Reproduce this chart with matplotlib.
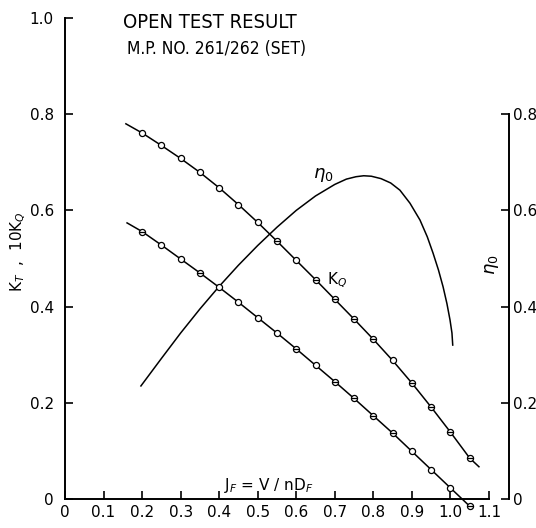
import numpy as np
import matplotlib.pyplot as plt

plt.rcParams['font.family'] = ['DejaVu Sans']
plt.rcParams['mathtext.fontset'] = 'dejavusans'

# advance coefficient of the test points
j_pts = [0.20, 0.25, 0.30, 0.35, 0.40, 0.45, 0.50, 0.55, 0.60,
         0.65, 0.70, 0.75, 0.80, 0.85, 0.90, 0.95, 1.00, 1.05]
# 10*KQ (upper curve) and KT (lower curve)
kq10_pts = [0.761, 0.735, 0.708, 0.679, 0.647, 0.612, 0.575, 0.536, 0.496,
            0.456, 0.415, 0.374, 0.332, 0.288, 0.241, 0.191, 0.139, 0.085]
kt_pts = [0.556, 0.528, 0.499, 0.470, 0.440, 0.409, 0.377, 0.345, 0.312,
          0.278, 0.244, 0.209, 0.173, 0.137, 0.099, 0.061, 0.023, -0.015]
# repeated runs (drawn as circle with a bar)
kq10_double = [0.55, 0.65, 0.70, 0.75, 0.80, 0.90, 0.95, 1.00, 1.05]
kt_double = [0.20, 0.35, 0.60, 0.70, 0.75, 0.80, 0.85, 1.05]

# fairing ends of the two lines
kq10_ends_j = [0.158, 1.074]
kq10_ends = [0.780, 0.067]
kt_ends_j = [0.161, 1.056]
kt_ends = [0.574, -0.019]

# open water efficiency
eta_j = [0.197, 0.25, 0.30, 0.35, 0.40, 0.45, 0.50, 0.55, 0.60, 0.65, 0.70,
         0.73, 0.755, 0.775, 0.795, 0.82, 0.845, 0.869, 0.895, 0.921, 0.94,
         0.955, 0.969, 0.981, 0.991, 0.999, 1.004, 1.006]
eta = [0.235, 0.292, 0.345, 0.395, 0.442, 0.486, 0.527, 0.565, 0.600, 0.630,
       0.654, 0.665, 0.670, 0.672, 0.671, 0.666, 0.657, 0.642, 0.615, 0.580,
       0.545, 0.511, 0.476, 0.441, 0.406, 0.372, 0.345, 0.320]

fig = plt.figure(figsize=(5.36, 5.28), dpi=100)
ax = fig.add_axes([65/536, 14.6/528, 444/536, 495.4/528])
ax.set_xlim(0, 1.152)
ax.set_ylim(-0.03, 1.0)


def faired(j_ends, y_ends, jp, yp):
    jj = [j_ends[0]] + list(jp) + [j_ends[1]]
    yy = [y_ends[0]] + list(yp) + [y_ends[1]]
    return jj, yy


for ends_j, ends_y, vals, dbl in [(kq10_ends_j, kq10_ends, kq10_pts, kq10_double),
                                  (kt_ends_j, kt_ends, kt_pts, kt_double)]:
    jj, yy = faired(ends_j, ends_y, j_pts, vals)
    ax.plot(jj, yy, color='black', lw=1.1, zorder=2, clip_on=False)
    ax.plot(j_pts, vals, 'o', ms=4.4, mfc='white', mec='black', mew=0.9, zorder=3,
            clip_on=False)
    dj = [j for j in j_pts if j in dbl]
    dv = [v for j, v in zip(j_pts, vals) if j in dbl]
    ax.plot(dj, dv, '_', ms=4.4, mec='black', mew=0.9, zorder=4, clip_on=False)

ax.plot(eta_j, eta, color='black', lw=1.1, zorder=2, solid_joinstyle='round')

# spines and ticks
ax.spines['top'].set_visible(False)
ax.spines['right'].set_visible(False)
ax.spines['left'].set_bounds(0, 1.0)
ax.spines['bottom'].set_position(('data', 0))
ax.spines['bottom'].set_bounds(0, 1.1)
for s in ['left', 'bottom']:
    ax.spines[s].set_linewidth(1.4)

ax.set_xticks(np.arange(0, 1.11, 0.1))
ax.set_xticklabels(['0', '0.1', '0.2', '0.3', '0.4', '0.5', '0.6', '0.7',
                    '0.8', '0.9', '1.0', '1.1'])
ax.set_yticks([0, 0.2, 0.4, 0.6, 0.8, 1.0])
ax.set_yticklabels(['0', '0.2', '0.4', '0.6', '0.8', '1.0'])
ax.tick_params(axis='x', direction='in', length=6, width=1.2, pad=4, labelsize=11)
ax.tick_params(axis='y', direction='in', length=6, width=1.2, pad=8, labelsize=11)

ax2 = ax.twinx()
ax2.set_ylim(-0.03, 1.0)
for s in ['top', 'left', 'bottom']:
    ax2.spines[s].set_visible(False)
ax2.spines['right'].set_bounds(0, 0.8)
ax2.spines['right'].set_linewidth(1.4)
ax2.set_yticks([0, 0.2, 0.4, 0.6, 0.8])
ax2.set_yticklabels(['0', '0.2', '0.4', '0.6', '0.8'])
ax2.tick_params(axis='y', direction='in', length=6, width=1.2, pad=3, labelsize=11)

# labels
fig.text(18/536, 1 - 252/528, r'K$_T$  ,  10K$_Q$', rotation=90, ha='center',
         va='center', fontsize=11)
fig.text(492/536, 1 - 265/528, r'$\eta_0$', rotation=90, ha='center',
         va='center', fontsize=13)
ax.text(0.529, 0.029, r'J$_F$ = V / nD$_F$', ha='center', va='center', fontsize=11)
ax.text(0.669, 0.674, r'$\eta_0$', ha='center', va='center', fontsize=13)
ax.text(0.706, 0.455, r'K$_Q$', ha='center', va='center', fontsize=11)

fig.text(123/536, 1 - 22/528, 'OPEN TEST RESULT', ha='left', va='center',
         fontsize=14.5, fontstretch='condensed')
fig.text(127/536, 1 - 49/528, 'M.P. NO. 261/262 (SET)', ha='left', va='center',
         fontsize=12.5, fontstretch='condensed')

fig.savefig('out.png', dpi=100)
